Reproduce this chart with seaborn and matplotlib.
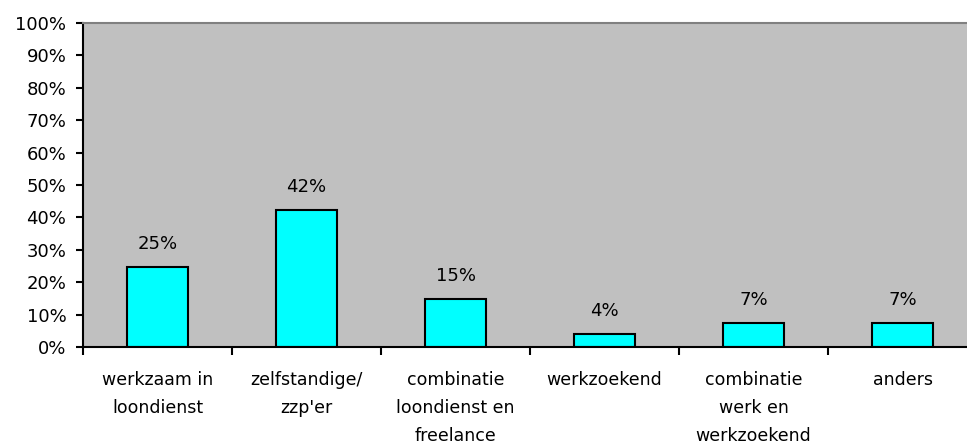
import matplotlib
matplotlib.use("Agg")
import matplotlib.pyplot as plt
import seaborn as sns
import pandas as pd
import numpy as np
from matplotlib.ticker import FixedLocator, PercentFormatter

categories = ["werkzaam in\nloondienst", "zelfstandige/\nzzp'er", "combinatie\nloondienst en\nfreelance",
              "werkzoekend", "combinatie\nwerk en\nwerkzoekend", "anders"]
values = [24.7, 42.2, 14.8, 3.9, 7.3, 7.3]
yticks = list(range(0, 101, 10))

sns.set_theme(style="white")
plt.rcParams['font.family'] = ['DejaVu Sans']
plt.rcParams['text.color'] = 'black'
plt.rcParams['xtick.color'] = 'black'
plt.rcParams['ytick.color'] = 'black'

df = pd.DataFrame({"cat": categories, "val": values})

fig = plt.figure(figsize=(9.67, 4.46), dpi=100)
ax = fig.add_axes([83/967, 1-347/446, 894/967, 324/446])
ax.set_facecolor("#C0C0C0")

sns.barplot(data=df, x="cat", y="val", ax=ax, color="#00FFFF", width=0.41,
            edgecolor="black", linewidth=1.5, saturation=1)
for p in ax.patches:
    p.set_facecolor("#00FFFF")

for i, v in enumerate(values):
    ax.text(i, v + 5.6, f"{v:.0f}%", ha="center", va="baseline", fontsize=13, color="black")

ax.set_xlim(-0.5, len(categories) - 0.5)
ax.set_ylim(0, 100)
ax.set_yticks(yticks)
ax.yaxis.set_major_formatter(PercentFormatter(decimals=0))
ax.tick_params(axis="y", which="major", direction="out", length=5, width=1.5, color="black",
               labelcolor="black", labelsize=13, left=True, pad=7)
ax.tick_params(axis="x", which="major", length=0, labelsize=12.5, labelcolor="black", pad=17)
ax.xaxis.set_minor_locator(FixedLocator(np.arange(-0.5, len(categories), 1.0)))
ax.tick_params(axis="x", which="minor", direction="out", length=6, width=1.5, color="black", bottom=True)
ax.set_xlabel("")
ax.set_ylabel("")

for s in ["left", "bottom"]:
    ax.spines[s].set_visible(True)
    ax.spines[s].set_color("black")
    ax.spines[s].set_linewidth(1.5)
ax.spines["top"].set_visible(True)
ax.spines["top"].set_color("#808080")
ax.spines["top"].set_linewidth(1.5)
ax.spines["right"].set_visible(False)

for lbl in ax.get_xticklabels():
    lbl.set_va("top")
    lbl.set_linespacing(1.72)

fig.savefig("out.png", dpi=100)
